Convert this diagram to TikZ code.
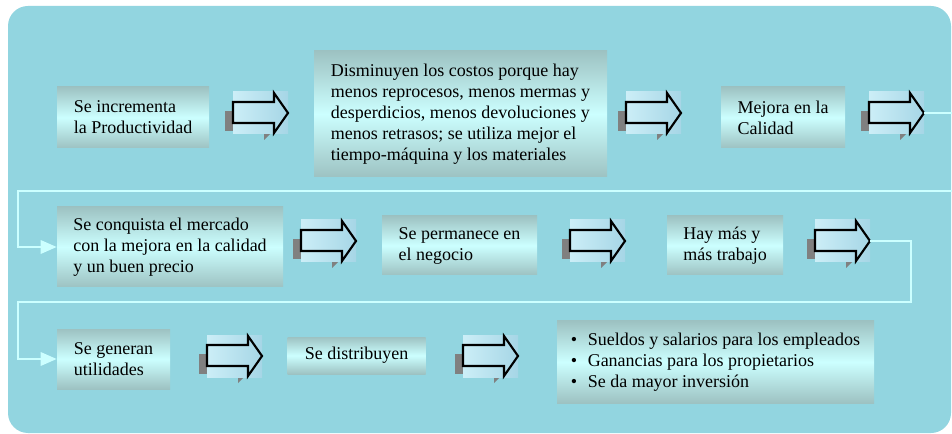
\documentclass[tikz,border=0pt]{standalone}
\usepackage{fontspec}
\setmainfont{Liberation Serif}
\usetikzlibrary{arrows.meta}

\definecolor{fondo}{RGB}{146,213,224}
\definecolor{cajaborde}{RGB}{157,194,194}
\definecolor{cajaclaro}{RGB}{204,255,255}
\definecolor{lineaclara}{RGB}{204,255,255}
\definecolor{iconoA}{RGB}{204,238,247}
\definecolor{iconoB}{RGB}{166,214,230}
\definecolor{gris}{RGB}{128,128,128}

\tikzset{
  caja/.style={top color=cajaborde, bottom color=cajaborde, middle color=cajaclaro,
    align=left, inner sep=0pt, font=\fontsize{13.5}{15.75}\selectfont},
  conector/.style={draw=lineaclara, line width=1.6pt, -{Triangle[length=12pt,width=10pt]}},
  flecha/.pic={
    % sombra gris
    \fill[gris] (-8,19) rectangle (0,39);
    \fill[gris] (31,42) -- (37,42) -- (31,48) -- cycle;
    % fondo del icono
    \shade[left color=iconoA, right color=iconoB] (0,0) rectangle (55,42);
    % flecha
    \draw[black, line width=1.6pt, line join=miter] (0,10) -- (41,10) -- (41,1) -- (55,21)
      -- (41,41) -- (41,31) -- (0,31) -- cycle;
    \coordinate (-punta) at (55,21);
  }
}

\begin{document}
\begin{tikzpicture}[x=0.75pt, y=-0.75pt]
  \useasboundingbox (0,0) rectangle (952,434);
  \fill[white] (0,0) rectangle (952,434);
  % Fondo
  \fill[fondo, rounded corners=15pt] (8,6) rectangle (951,433);

  % Fila 1
  \node[caja, minimum width=114pt, minimum height=45.75pt] (prod) at (133,117.5)
    {Se incrementa\\la Productividad};
  \pic (f1) at (233,92) {flecha};
  \node[caja, minimum width=219.75pt, minimum height=94.5pt] (costos) at (460.5,114)
    {Disminuyen los costos porque hay\\menos reprocesos, menos mermas y\\desperdicios, menos devoluciones y\\menos retrasos; se utiliza mejor el\\tiempo-máquina y los materiales};
  \pic (f2) at (626,92) {flecha};
  \node[caja, minimum width=93pt, minimum height=45.75pt] (calidad) at (783,117.5)
    {Mejora en la\\Calidad};
  \pic (f3) at (869,92) {flecha};

  % Fila 2
  \node[caja, minimum width=169.5pt, minimum height=60pt] (merc) at (170,247)
    {Se conquista el mercado\\con la mejora en la calidad\\y un buen precio};
  \pic (f4) at (301,220) {flecha};
  \node[caja, minimum width=116.25pt, minimum height=44.25pt] (neg) at (459.5,245.5)
    {Se permanece en\\el negocio};
  \pic (f5) at (570,220) {flecha};
  \node[caja, minimum width=87pt, minimum height=44.25pt] (trab) at (725,245.5)
    {Hay más y\\más trabajo};
  \pic (f6) at (815,220) {flecha};

  % Fila 3
  \node[caja, minimum width=84.75pt, minimum height=45pt] (util) at (113.5,359)
    {Se generan\\utilidades};
  \pic (f7) at (207,335) {flecha};
  \node[caja, minimum width=103.5pt, minimum height=27.75pt] (dist) at (356.5,355.5)
    {Se distribuyen};
  \pic (f8) at (463,335) {flecha};
  \node[caja, minimum width=237.75pt, minimum height=61.5pt] (lista) at (715.5,362)
    {\textbullet\hspace{8pt}Sueldos y salarios para los empleados\\
     \textbullet\hspace{8pt}Ganancias para los propietarios\\
     \textbullet\hspace{8pt}Se da mayor inversión};

  % Conectores entre filas
  \draw[conector] (f3-punta) -- ++(40,0) |- (18,191) |- (merc.west);
  \draw[conector] (f6-punta) -- ++(41,0) |- (18,302) |- (util.west);
\end{tikzpicture}
\end{document}
